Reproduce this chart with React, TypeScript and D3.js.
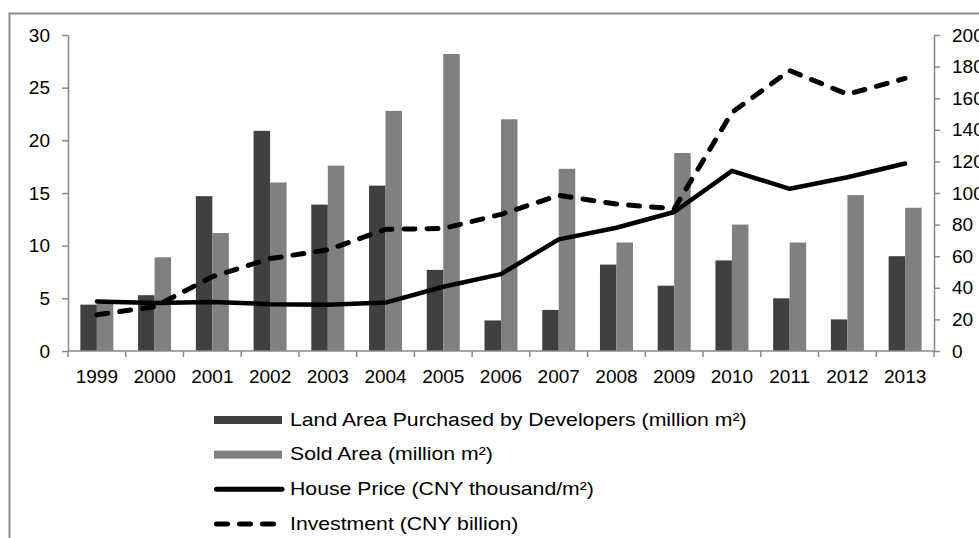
import React, { useEffect, useRef } from 'react';
import * as d3 from 'd3';

// data
const years = ['1999', '2000', '2001', '2002', '2003', '2004', '2005', '2006', '2007', '2008', '2009', '2010', '2011', '2012', '2013'];
const landArea = [4.4, 5.3, 14.7, 20.9, 13.9, 15.7, 7.7, 2.9, 3.9, 8.2, 6.2, 8.6, 5.0, 3.0, 9.0];
const soldArea = [4.5, 8.9, 11.2, 16.0, 17.6, 22.8, 28.2, 22.0, 17.3, 10.3, 18.8, 12.0, 10.3, 14.8, 13.6];
const housePrice = [4.7, 4.55, 4.65, 4.45, 4.4, 4.6, 6.1, 7.3, 10.6, 11.7, 13.2, 17.1, 15.4, 16.5, 17.8];
const investment = [23, 28, 47, 58.5, 64, 77, 77.5, 86.5, 98.5, 93, 90, 151, 177.5, 162.5, 172.5];

const leftTicks = [0, 5, 10, 15, 20, 25, 30];
const rightTicks = [0, 20, 40, 60, 80, 100, 120, 140, 160, 180, 200];

const legendLabels = [
  'Land Area Purchased by Developers (million m²)',
  'Sold Area (million m²)',
  'House Price (CNY thousand/m²)',
  'Investment (CNY billion)',
];

const App = () => {
  const chartRef = useRef<SVGSVGElement>(null);

  const width = 979, height = 538;
  const marginLeft = 68, marginRight = 45, marginTop = 35, plotBottom = 351;

  const DARK = '#404040';
  const LIGHT = '#808080';
  const AXIS = '#898989';
  const FONT = '"Liberation Sans", Arial, sans-serif';

  useEffect(() => {
    const svg = d3.select(chartRef.current);
    svg.selectAll('*').remove();

    // outer frame (right/bottom edges fall outside the picture)
    svg.append('rect')
      .attr('x', 9.5).attr('y', 13.5)
      .attr('width', 1100).attr('height', 800)
      .attr('fill', '#fff')
      .attr('stroke', AXIS)
      .attr('stroke-width', 2);

    // scales
    const x = d3.scaleBand().domain(years).range([marginLeft, width - marginRight]);
    const xSub = d3.scaleBand().domain(['land', 'sold']).range([0, x.bandwidth()]).paddingOuter(0.75);
    const yLeft = d3.scaleLinear().domain([0, 30]).range([plotBottom, marginTop]);
    const yRight = d3.scaleLinear().domain([0, 200]).range([plotBottom, marginTop]);

    // bars
    const barGroups = svg.append('g');
    barGroups.selectAll('rect.land')
      .data(years)
      .join('rect')
      .attr('class', 'land')
      .attr('x', (d) => (x(d) as number) + (xSub('land') as number))
      .attr('y', (d, i) => yLeft(landArea[i]))
      .attr('width', xSub.bandwidth())
      .attr('height', (d, i) => yLeft(0) - yLeft(landArea[i]))
      .attr('fill', DARK);
    barGroups.selectAll('rect.sold')
      .data(years)
      .join('rect')
      .attr('class', 'sold')
      .attr('x', (d) => (x(d) as number) + (xSub('sold') as number))
      .attr('y', (d, i) => yLeft(soldArea[i]))
      .attr('width', xSub.bandwidth())
      .attr('height', (d, i) => yLeft(0) - yLeft(soldArea[i]))
      .attr('fill', LIGHT);

    // left axis
    svg.append('g')
      .attr('transform', `translate(${marginLeft},0)`)
      .call(d3.axisLeft(yLeft).tickValues(leftTicks).tickSize(6).tickPadding(12).tickSizeOuter(0))
      .call((g) => {
        g.select('.domain').attr('stroke', AXIS).attr('stroke-width', 1.5);
        g.selectAll('.tick line').attr('stroke', AXIS).attr('stroke-width', 1.5);
        g.selectAll('.tick text').attr('fill', '#000').style('font-size', '19px').style('font-family', FONT);
      });

    // right axis
    svg.append('g')
      .attr('transform', `translate(${width - marginRight},0)`)
      .call(d3.axisRight(yRight).tickValues(rightTicks).tickSize(6).tickPadding(12).tickSizeOuter(0))
      .call((g) => {
        g.select('.domain').attr('stroke', AXIS).attr('stroke-width', 1.5);
        g.selectAll('.tick line').attr('stroke', AXIS).attr('stroke-width', 1.5);
        g.selectAll('.tick text').attr('fill', '#000').style('font-size', '19px').style('font-family', FONT);
      });

    // bottom axis: labels at band centres, tick marks at band edges
    svg.append('g')
      .attr('transform', `translate(0,${plotBottom})`)
      .call(d3.axisBottom(x).tickSize(0).tickPadding(18.5).tickSizeOuter(0))
      .call((g) => {
        g.select('.domain').remove();
        g.selectAll('.tick text').attr('fill', '#000').style('font-size', '19px').style('font-family', FONT);
      });
    const edges = years.map((d) => x(d) as number).concat([width - marginRight]);
    const xAxisG = svg.append('g');
    xAxisG.append('line')
      .attr('x1', marginLeft).attr('x2', width - marginRight)
      .attr('y1', plotBottom).attr('y2', plotBottom)
      .attr('stroke', AXIS).attr('stroke-width', 1.5);
    xAxisG.selectAll('line.edge')
      .data(edges)
      .join('line')
      .attr('class', 'edge')
      .attr('x1', (d) => d).attr('x2', (d) => d)
      .attr('y1', plotBottom).attr('y2', plotBottom + 6)
      .attr('stroke', AXIS).attr('stroke-width', 1.5);

    // lines
    const cx = (i: number) => (x(years[i]) as number) + x.bandwidth() / 2;
    const priceLine = d3.line<number>().x((d, i) => cx(i)).y((d) => yLeft(d));
    const investLine = d3.line<number>().x((d, i) => cx(i)).y((d) => yRight(d));

    svg.append('path')
      .attr('d', priceLine(housePrice))
      .attr('fill', 'none')
      .attr('stroke', '#000')
      .attr('stroke-width', 4.5)
      .attr('stroke-linejoin', 'round')
      .attr('stroke-linecap', 'round');

    svg.append('path')
      .attr('d', investLine(investment))
      .attr('fill', 'none')
      .attr('stroke', '#000')
      .attr('stroke-width', 5)
      .attr('stroke-dasharray', '11 12')
      .attr('stroke-linejoin', 'round')
      .attr('stroke-linecap', 'round');

    // legend
    const legendY = d3.scalePoint().domain(legendLabels).range([420, 524]);
    const symX0 = 214, symX1 = 282, textX = 290;
    const legend = svg.append('g');

    legendLabels.forEach((label, i) => {
      const yy = legendY(label) as number;
      if (i < 2) {
        legend.append('rect')
          .attr('x', symX0).attr('y', yy - 4)
          .attr('width', symX1 - symX0).attr('height', 8)
          .attr('fill', i === 0 ? DARK : LIGHT);
      } else {
        legend.append('line')
          .attr('x1', symX0 + 2.5).attr('x2', symX1 - (i === 2 ? 0 : 2.5))
          .attr('y1', yy).attr('y2', yy)
          .attr('stroke', '#000')
          .attr('stroke-width', 5)
          .attr('stroke-linecap', 'round')
          .attr('stroke-dasharray', i === 3 ? '11 12' : null);
      }
      legend.append('text')
        .attr('transform', `translate(${textX},${yy + 5.5}) scale(1.18,1)`)
        .attr('fill', '#000')
        .style('font-size', '18px')
        .style('font-family', FONT)
        .text(label);
    });
  }, []);

  return (
    <svg
      ref={chartRef}
      width={width}
      height={height}
      style={{ position: 'absolute', left: 0, top: 0, display: 'block' }}
    />
  );
};

export default App;
